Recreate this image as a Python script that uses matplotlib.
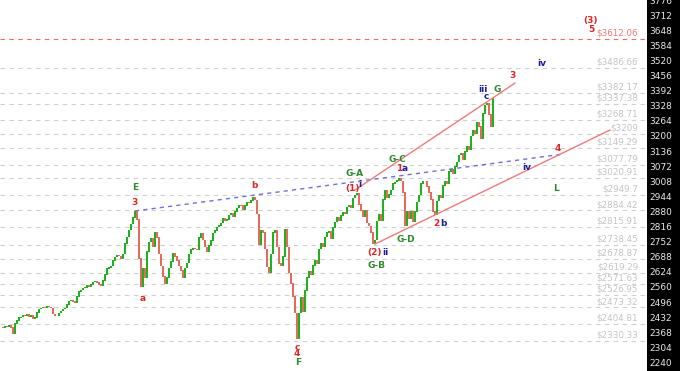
import matplotlib
matplotlib.use("Agg")
import matplotlib.pyplot as plt
from matplotlib.patches import Rectangle
import numpy as np

# ---- data ----
closes = [
    2390, 2386, 2395, 2392, 2398, 2388, 2362, 2405, 2418, 2430,
    2433, 2440, 2436, 2444, 2432, 2440, 2426, 2430, 2452, 2466,
    2470, 2476, 2473, 2480, 2476, 2470, 2445, 2438, 2436, 2450,
    2458, 2466, 2470, 2486, 2500, 2504, 2498, 2494, 2520, 2540,
    2548, 2555, 2558, 2566, 2562, 2570, 2580, 2584, 2578, 2570,
    2566, 2588, 2612, 2638, 2642, 2650, 2672, 2686, 2694, 2692,
    2680, 2700, 2744, 2772, 2802, 2826, 2854, 2880, 2846, 2680,
    2560, 2640, 2600, 2710, 2750, 2768, 2732, 2790, 2770, 2700,
    2650, 2605, 2575, 2600, 2640, 2668, 2702, 2690, 2672, 2650,
    2630, 2600, 2640, 2662, 2700, 2718, 2726, 2722, 2716, 2770,
    2788, 2760, 2730, 2708, 2735, 2756, 2788, 2800, 2814, 2820,
    2830, 2850, 2840, 2846, 2866, 2872, 2856, 2880, 2895, 2908,
    2905, 2886, 2905, 2920, 2918, 2926, 2940, 2928, 2870, 2740,
    2800, 2790, 2720, 2645, 2620, 2700, 2790, 2800, 2730, 2660,
    2650, 2690, 2805, 2730, 2620, 2575, 2520, 2450, 2340, 2450,
    2515, 2455, 2545, 2600, 2625, 2610, 2652, 2672, 2660, 2722,
    2745, 2730, 2772, 2790, 2798, 2765, 2812, 2835, 2856, 2840,
    2862, 2878, 2870, 2898, 2908, 2895, 2936, 2950, 2958, 2910,
    2885, 2856, 2886, 2832, 2818, 2790, 2745, 2760, 2840, 2870,
    2840, 2930, 2968, 2938, 2952, 2970, 2998, 3005, 3012, 3022,
    3010, 2960, 2820, 2880, 2850, 2880, 2838, 2880, 2920, 2950,
    2998, 3010, 3008, 2985, 2960, 2930, 2880, 2866, 2925, 2950,
    2940, 2990, 3010, 2998, 3050, 3058, 3040, 3070, 3090, 3120,
    3126, 3100, 3135, 3155, 3140, 3200, 3225, 3210, 3256, 3240,
    3190, 3295, 3330, 3340, 3290, 3240, 3360,
]

levels = [3486.66, 3382.17, 3337.38, 3268.71, 3209, 3149.29, 3077.79,
          3020.91, 2949.7, 2884.42, 2815.91, 2738.45, 2678.87, 2619.29,
          2571.63, 2526.95, 2473.32, 2404.81, 2330.33]
target_level = 3612.06

yticks = list(range(2240, 3777, 64))

# (text, colour key, index, price)
labels = [
    ("E", "g", 67, 2983), ("3", "r", 67, 2916), ("a", "r", 71, 2513),
    ("b", "r", 126.5, 2992), ("c", "r", 148, 2305), ("4", "r", 148, 2280),
    ("F", "g", 148.5, 2238), ("G-A", "g", 177, 3039), ("(1)", "r", 176, 2979),
    ("i", "b", 179.5, 2996), ("G-C", "g", 198, 3102), ("1", "r", 199, 3064),
    ("a", "b", 202, 3064), ("(2)", "r", 186.5, 2708), ("ii", "b", 192, 2708),
    ("G-B", "g", 187.5, 2649), ("G-D", "g", 202.5, 2763), ("2", "r", 217.5, 2827),
    ("b", "b", 221, 2827), ("iii", "b", 241, 3395), ("c", "b", 242.5, 3365),
    ("G", "g", 248, 3395), ("3", "r", 255.5, 3454), ("iv", "b", 270.5, 3509),
    ("4", "r", 278.5, 3145), ("iv", "b", 263, 3068), ("L", "g", 277.5, 2979),
    ("(3)", "r", 295, 3691), ("5", "r", 295, 3653),
]

blue_line = ([67, 281], [2882, 3123])
red_upper = ([177, 257], [2971, 3424])
red_lower = ([187, 304.5], [2742, 3225])

# ---- drawing ----
W, H = 680, 371
fig = plt.figure(figsize=(W / 100, H / 100), dpi=100)
fig.patch.set_facecolor("white")
axw = 647 / W
ax = fig.add_axes([0, 0, axw, 1])
fig.patches.append(Rectangle((axw, 0), 1 - axw, 1, transform=fig.transFigure,
                             facecolor="black", edgecolor="none", zorder=-5))

ax.set_xlim(-0.5, 323)
ax.set_ylim(2204, 3776)
for s in ax.spines.values():
    s.set_visible(False)
ax.set_xticks([])
ax.yaxis.tick_right()
ax.set_yticks(yticks)
ax.set_yticklabels([str(t) for t in yticks])
ax.tick_params(axis="y", length=0, pad=2, labelcolor="#e8e8e8", labelsize=6.5)

# level lines
for lv in levels:
    ax.axhline(lv, color="#cfcfcf", lw=0.8, dashes=(4, 4), zorder=1)
    ax.text(318.5, lv + 6, f"${lv:g}", ha="right", va="bottom",
            fontsize=6.3, color="#c4c4c4", zorder=2)
ax.axhline(target_level, color="#f06a6a", lw=0.8, dashes=(4, 4), zorder=1)
ax.text(318.5, target_level + 6, f"${target_level:.2f}", ha="right", va="bottom",
        fontsize=6.3, color="#f07878", zorder=2)

# candles
c = np.array(closes, dtype=float)
o = np.concatenate([[c[0]], c[:-1]])
idx = np.arange(len(c))
up = c >= o
bottom = np.minimum(o, c)
height = np.abs(c - o) + 2
ax.bar(idx[up], height[up], bottom=bottom[up] - 1, width=0.75,
       color="#1fb21f", edgecolor="none", zorder=3)
ax.bar(idx[~up], height[~up], bottom=bottom[~up] - 1, width=0.75,
       color="#e86a5c", edgecolor="none", zorder=3)

# trend lines
ax.plot(*blue_line, color="#6f6fe0", lw=1, dashes=(3, 3), zorder=4)
ax.plot(*red_upper, color="#f07a7a", lw=1, zorder=4)
ax.plot(*red_lower, color="#f07a7a", lw=1, zorder=4)

cols = {"g": "#2f8a2f", "r": "#e02424", "b": "#1c1c96"}
for t, ck, xi, yp in labels:
    ax.text(xi, yp, t, color=cols[ck], fontsize=6.5, fontweight="bold",
            ha="center", va="center", zorder=5)

fig.savefig("out.png", dpi=100)
